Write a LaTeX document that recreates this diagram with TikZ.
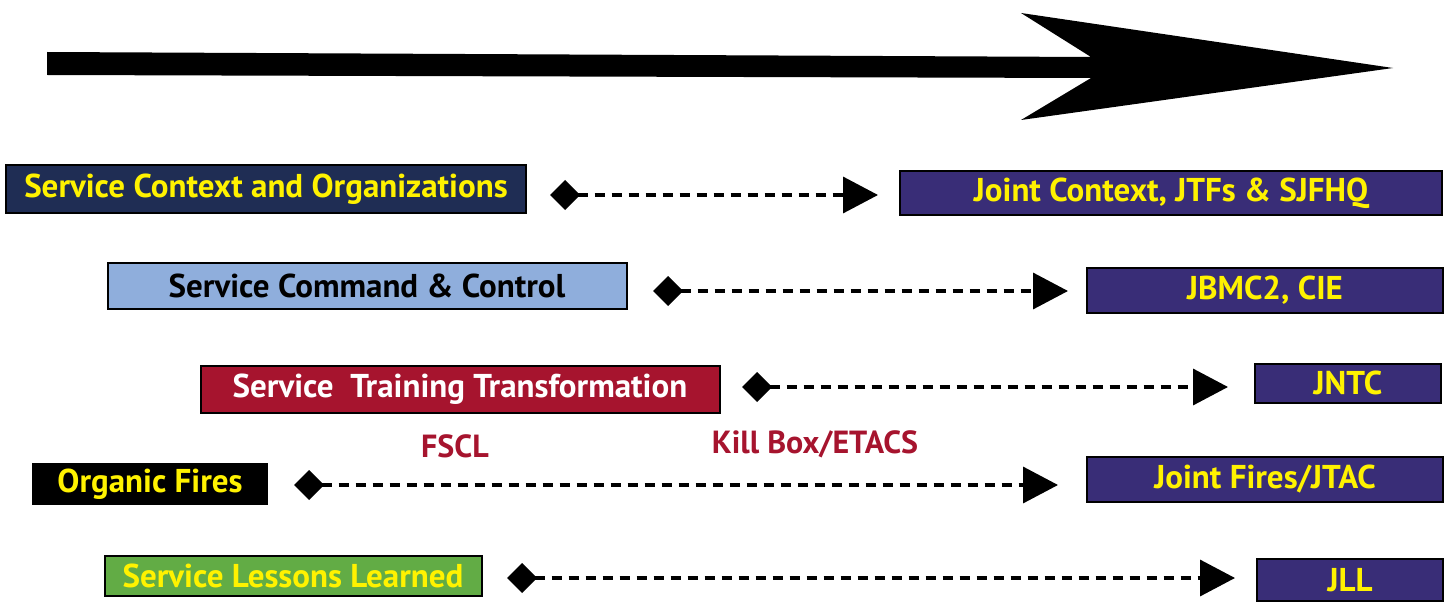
\documentclass[tikz,border=0pt]{standalone}
\usepackage{fontspec}
\setsansfont{PT Sans}
\usepackage{tikz}
\usetikzlibrary{arrows.meta}
\definecolor{navy}{HTML}{1F2D54}
\definecolor{jointblue}{HTML}{392D77}
\definecolor{lightblue}{HTML}{8FAEDC}
\definecolor{crimson}{HTML}{A6142E}
\definecolor{leafgreen}{HTML}{62AC45}
\definecolor{signyellow}{HTML}{FFF200}
\begin{document}
\begin{tikzpicture}[x=1pt,y=-1pt,
	box/.style={draw=black, line width=2pt, inner sep=0pt, font=\sffamily\bfseries\fontsize{33}{35}\selectfont},
	joint/.style={box, fill=jointblue, text=signyellow},
	link/.style={line width=3.5pt, dash pattern=on 10pt off 7pt, {Diamond[length=30pt,width=30pt]}-{Triangle[length=35pt,width=36pt]}},
	tag/.style={text=crimson, font=\sffamily\bfseries\fontsize{32}{34}\selectfont}]
\useasboundingbox (0,0) rectangle (1450,604);
\fill[black] (47,52) -- (1091,57) -- (1021,13) -- (1393,68) -- (1021,120) -- (1091,78) -- (47,75) -- cycle;
\node[box, fill=navy, text=signyellow, minimum width=520pt, minimum height=47pt] (svc1) at (266,189) {Service Context and Organizations};
\node[joint, minimum width=542pt, minimum height=43pt] (jnt1) at (1171,193) {Joint Context, JTFs \& SJFHQ};
\node[box, fill=lightblue, text=black, minimum width=519pt, minimum height=46pt] (svc2) at (367,286) {Service Command \& Control};
\node[joint, minimum width=356pt, minimum height=45pt] (jnt2) at (1265,290) {JBMC2, CIE};
\node[box, fill=crimson, text=white, minimum width=519pt, minimum height=47pt] (svc3) at (460,389) {Service~ Training Transformation};
\node[joint, minimum width=186pt, minimum height=39pt] (jnt3) at (1348,383) {JNTC};
\node[box, fill=black, text=signyellow, minimum width=234pt, minimum height=40pt] (svc4) at (150,484) {Organic Fires};
\node[joint, minimum width=356pt, minimum height=45pt] (jnt4) at (1265,479) {Joint Fires/JTAC};
\node[box, fill=leafgreen, text=signyellow, minimum width=377pt, minimum height=40pt] (svc5) at (293,576) {Service Lessons Learned};
\node[joint, minimum width=186pt, minimum height=42pt] (jnt5) at (1350,580) {JLL};
\node[tag] (fscl) at (455,446) {FSCL};
\node[tag] (kbox) at (815,444) {Kill Box/ETACS};
\coordinate (s1) at (550,195); \coordinate (e1) at (878,195);
\coordinate (s2) at (653,291); \coordinate (e2) at (1068,291);
\coordinate (s3) at (742,387); \coordinate (e3) at (1228,387);
\coordinate (s4) at (294,485); \coordinate (e4) at (1058,485);
\coordinate (s5) at (507,578); \coordinate (e5) at (1235,578);
\foreach \i in {1,...,5}
	\draw[link] (s\i) -- (e\i);
\end{tikzpicture}
\end{document}
